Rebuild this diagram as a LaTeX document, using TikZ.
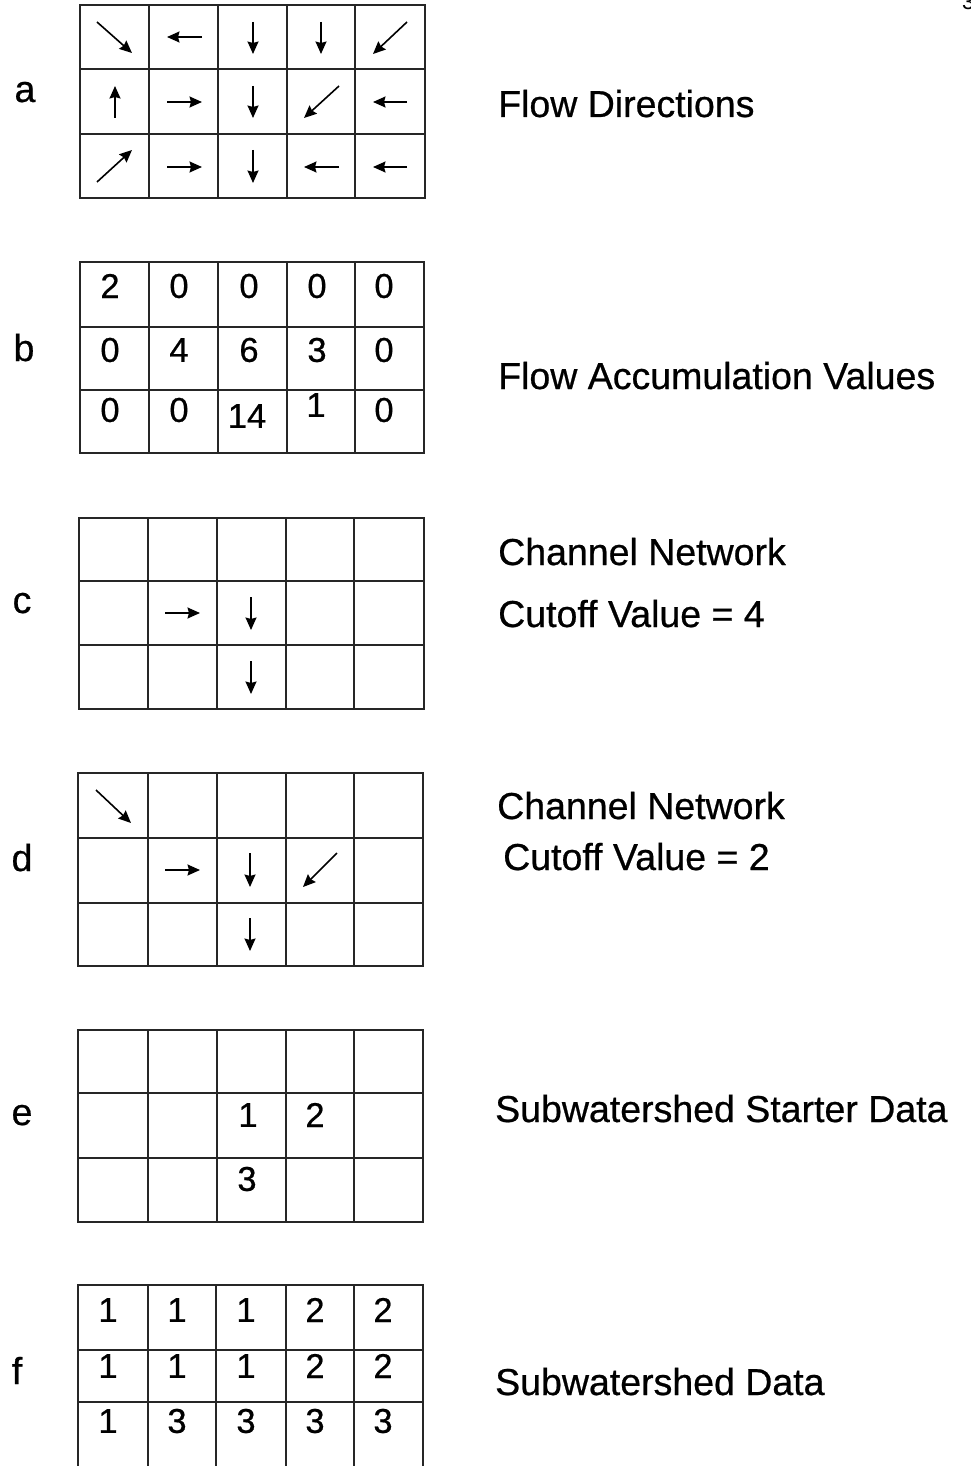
\documentclass[tikz,border=0pt]{standalone}
\usepackage{fontspec}
\setmainfont{Liberation Sans}[BoldFont=Liberation Sans, BoldFeatures={FakeBold=0.6}]
\usetikzlibrary{arrows.meta}
\begin{document}
\begin{tikzpicture}[x=1pt,y=-1pt,
  gridline/.style={line width=1.9pt, black!85},
  flow/.style={line width=1.6pt, -{Stealth[length=12.5pt,width=11pt,inset=1.5pt]}},
  panel/.style={font=\fontsize{37.5}{40}\bfseries, anchor=base, inner sep=0pt},
  caption/.style={font=\fontsize{37.5}{40}\bfseries, anchor=base west, inner sep=0pt},
  cellnum/.style={font=\fontsize{34.5}{36}\bfseries, inner sep=0pt}]
\useasboundingbox[fill=white] (0,0) rectangle (971,1466);

% page number at the upper right edge
\node[font=\fontsize{22}{24}\selectfont, anchor=north west, inner sep=0pt] (pg) at (962,-6) {3};

% ---------- panel letters ----------
\node[panel] (la) at (25,102) {a};
\node[panel] (lb) at (24,361) {b};
\node[panel] (lc) at (22,613) {c};
\node[panel] (ld) at (22,871) {d};
\node[panel] (le) at (22,1125) {e};
\node[panel] (lf) at (17,1384) {f};

% ---------- captions ----------
\node[caption] (ta) at (498,117) {Flow Directions};
\node[caption] (tb) at (498,389) {Flow Accumulation Values};
\node[caption] (tc1) at (498,565) {Channel Network};
\node[caption] (tc2) at (498,627) {Cutoff Value = 4};
\node[caption] (td1) at (497,819) {Channel Network};
\node[caption] (td2) at (503,870) {Cutoff Value = 2};
\node[caption] (te) at (495,1122) {Subwatershed Starter Data};
\node[caption] (tf) at (495,1395) {Subwatershed Data};

% ---------- grid a: flow directions ----------
\draw[gridline] (80,5) rectangle (425,198);
\foreach \x in {149,218,287,355} \draw[gridline] (\x,5) -- (\x,198);
\foreach \y in {69,134} \draw[gridline] (80,\y) -- (425,\y);
% row 1
\draw[flow] (97,22) -- (132,53);
\draw[flow] (202,37) -- (167,37);
\draw[flow] (253,22) -- (253,54);
\draw[flow] (321,22) -- (321,54);
\draw[flow] (407,22) -- (373,54);
% row 2
\draw[flow] (115,118) -- (115,86);
\draw[flow] (167,102) -- (202,102);
\draw[flow] (253,86) -- (253,118);
\draw[flow] (339,86) -- (304,118);
\draw[flow] (407,102) -- (373,102);
% row 3
\draw[flow] (97,182) -- (132,150);
\draw[flow] (167,167) -- (202,167);
\draw[flow] (253,150) -- (253,183);
\draw[flow] (339,167) -- (304,167);
\draw[flow] (407,167) -- (373,167);

% ---------- grid b: flow accumulation ----------
\draw[gridline] (80,262) rectangle (424,453);
\foreach \x in {149,218,287,355} \draw[gridline] (\x,262) -- (\x,453);
\foreach \y in {327,390} \draw[gridline] (80,\y) -- (424,\y);
\node[cellnum] (b11) at (110,286) {2};
\node[cellnum] (b12) at (179,286) {0};
\node[cellnum] (b13) at (249,286) {0};
\node[cellnum] (b14) at (317,286) {0};
\node[cellnum] (b15) at (384,286) {0};
\node[cellnum] (b21) at (110,350) {0};
\node[cellnum] (b22) at (179,350) {4};
\node[cellnum] (b23) at (249,350) {6};
\node[cellnum] (b24) at (317,350) {3};
\node[cellnum] (b25) at (384,350) {0};
\node[cellnum] (b31) at (110,410) {0};
\node[cellnum] (b32) at (179,410) {0};
\node[cellnum] (b33) at (247,416) {14};
\node[cellnum] (b34) at (316,405) {1};
\node[cellnum] (b35) at (384,410) {0};

% ---------- grid c: channel network, cutoff 4 ----------
\draw[gridline] (79,518) rectangle (424,709);
\foreach \x in {148,217,286,354} \draw[gridline] (\x,518) -- (\x,709);
\foreach \y in {581,645} \draw[gridline] (79,\y) -- (424,\y);
\draw[flow] (165,613) -- (200,613);
\draw[flow] (251,597) -- (251,630);
\draw[flow] (251,661) -- (251,694);

% ---------- grid d: channel network, cutoff 2 ----------
\draw[gridline] (78,773) rectangle (423,966);
\foreach \x in {148,217,286,354} \draw[gridline] (\x,773) -- (\x,966);
\foreach \y in {838,903} \draw[gridline] (78,\y) -- (423,\y);
\draw[flow] (96,790) -- (131,823);
\draw[flow] (165,870) -- (200,870);
\draw[flow] (250,853) -- (250,887);
\draw[flow] (337,853) -- (303,887);
\draw[flow] (250,918) -- (250,951);

% ---------- grid e: subwatershed starter data ----------
\draw[gridline] (78,1030) rectangle (423,1222);
\foreach \x in {148,217,286,354} \draw[gridline] (\x,1030) -- (\x,1222);
\foreach \y in {1093,1158} \draw[gridline] (78,\y) -- (423,\y);
\node[cellnum] (e23) at (248,1115) {1};
\node[cellnum] (e24) at (315,1115) {2};
\node[cellnum] (e33) at (247,1179) {3};

% ---------- grid f: subwatershed data ----------
\draw[gridline] (78,1285) rectangle (423,1480);
\foreach \x in {148,216,286,354} \draw[gridline] (\x,1285) -- (\x,1480);
\foreach \y in {1350,1402} \draw[gridline] (78,\y) -- (423,\y);
\node[cellnum] (f11) at (108,1310) {1};
\node[cellnum] (f12) at (177,1310) {1};
\node[cellnum] (f13) at (246,1310) {1};
\node[cellnum] (f14) at (315,1310) {2};
\node[cellnum] (f15) at (383,1310) {2};
\node[cellnum] (f21) at (108,1366) {1};
\node[cellnum] (f22) at (177,1366) {1};
\node[cellnum] (f23) at (246,1366) {1};
\node[cellnum] (f24) at (315,1366) {2};
\node[cellnum] (f25) at (383,1366) {2};
\node[cellnum] (f31) at (108,1421) {1};
\node[cellnum] (f32) at (177,1421) {3};
\node[cellnum] (f33) at (246,1421) {3};
\node[cellnum] (f34) at (315,1421) {3};
\node[cellnum] (f35) at (383,1421) {3};
\end{tikzpicture}
\end{document}
